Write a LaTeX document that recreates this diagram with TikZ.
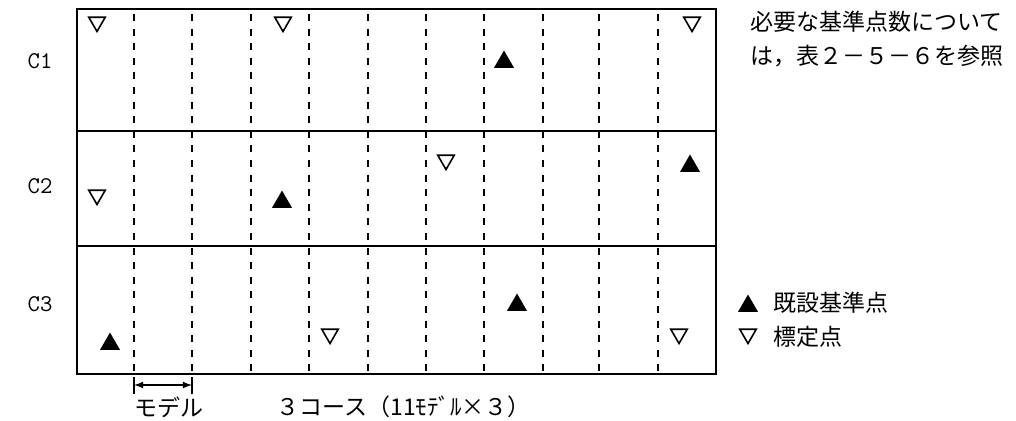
\documentclass[tikz,border=0pt]{standalone}
\usepackage{fontspec}
\setmainfont{Noto Sans CJK JP}
\usepackage{tikz}
\usetikzlibrary{shapes.geometric}

\begin{document}
\begin{tikzpicture}[x=0.5pt, y=-0.5pt,
  every node/.style={inner sep=0pt, font=\fontsize{11.5}{13}\selectfont},
  kijun/.style={regular polygon, regular polygon sides=3, fill=black, minimum size=11.5pt},
  hyotei/.style={regular polygon, regular polygon sides=3, shape border rotate=180, draw=black, line width=0.8pt, minimum size=9.5pt},
  modelline/.style={dash pattern=on 3.5pt off 3.8pt, line width=1pt},
  coursename/.style={font=\ttfamily\fontsize{12}{14}\selectfont}]
  \useasboundingbox (0,0) rectangle (1016,420);

  % Course frame
  \draw[line width=1pt] (77,9) rectangle (716,374);
  \draw[line width=0.8pt] (77,131) -- (716,131);
  \draw[line width=0.8pt] (77,246) -- (716,246);

  % Model boundaries (11 models)
  \draw[modelline] (134,14) -- (134,374);
  \draw[modelline] (192,14) -- (192,374);
  \draw[modelline] (251,14) -- (251,374);
  \draw[modelline] (309,14) -- (309,374);
  \draw[modelline] (368,14) -- (368,374);
  \draw[modelline] (426,14) -- (426,374);
  \draw[modelline] (484,14) -- (484,374);
  \draw[modelline] (543,14) -- (543,374);
  \draw[modelline] (599,14) -- (599,374);
  \draw[modelline] (658,14) -- (658,374);

  % Course labels
  \node[coursename] (c1) at (40,61) {C1};
  \node[coursename] (c2) at (40,186) {C2};
  \node[coursename] (c3) at (40,304) {C3};

  % Course C1
  \node[hyotei] (v11) at (97,22) {};
  \node[hyotei] (v12) at (283,22) {};
  \node[kijun] (a11) at (504,62) {};
  \node[hyotei] (v13) at (692,22) {};

  % Course C2
  \node[hyotei] (v21) at (97,195) {};
  \node[kijun] (a21) at (282,202) {};
  \node[hyotei] (v22) at (446,160) {};
  \node[kijun] (a22) at (690,166) {};

  % Course C3
  \node[kijun] (a31) at (110,344) {};
  \node[hyotei] (v31) at (330,334) {};
  \node[kijun] (a32) at (517,305) {};
  \node[hyotei] (v32) at (679,334) {};

  % Note
  \node[anchor=west] (note1) at (750,22) {必要な基準点数について};
  \node[anchor=west] (note2) at (750,56) {は，表２－５－６を参照};

  % Legend
  \node[kijun] (lgA) at (748,306) {};
  \node[anchor=west] (lgAtxt) at (773,303) {既設基準点};
  \node[hyotei] (lgV) at (748,334) {};
  \node[anchor=west] (lgVtxt) at (773,337) {標定点};

  % One model width
  \draw[line width=0.6pt] (134,377) -- (134,394);
  \draw[line width=0.6pt] (192,377) -- (192,394);
  \coordinate (mL) at (134,385);
  \coordinate (mR) at (192,385);
  \draw[<->, >=latex, line width=0.6pt] (mL) -- (mR);
  \node[anchor=west] (mdl) at (134,407) {モデル};
  \node[anchor=west] (crs) at (276,407) {３コース（11ﾓﾃﾞﾙ×３）};
\end{tikzpicture}
\end{document}
